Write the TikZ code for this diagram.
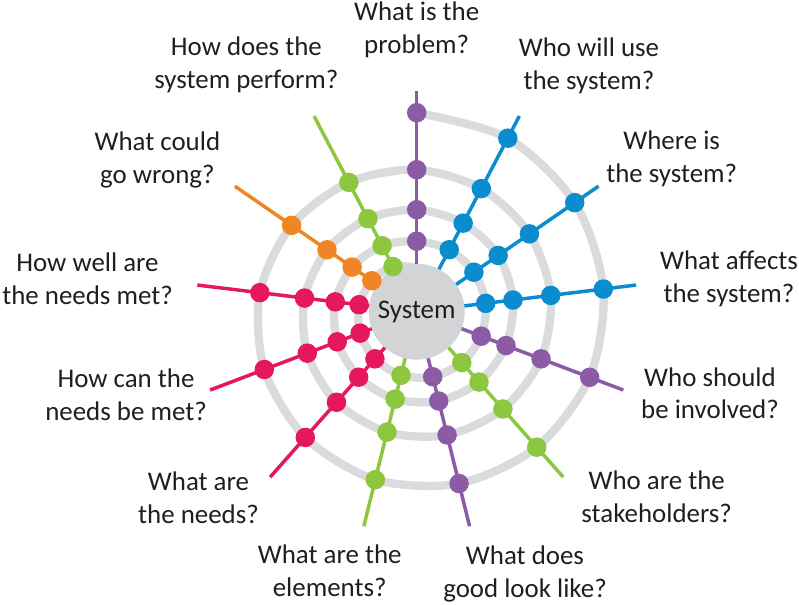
\documentclass[tikz,border=0pt]{standalone}
\usepackage{fontspec}
\setmainfont{Carlito}
\usepackage{tikz}
\usetikzlibrary{calc}
\definecolor{qpurple}{HTML}{8C5BA6}
\definecolor{qblue}{HTML}{0B8CCF}
\definecolor{qgreen}{HTML}{8DC63F}
\definecolor{qpink}{HTML}{E5175E}
\definecolor{qorange}{HTML}{F08526}
\definecolor{ringgray}{HTML}{DADBDD}
\definecolor{hubgray}{HTML}{D3D4D6}

\begin{document}
\begin{tikzpicture}[x=1bp, y=1bp,
  ring/.style={draw=ringgray, line width=8.3bp},
  spoke/.style={line width=3.5bp},
  bead/.style={circle, inner sep=0pt, minimum size=19.5bp},
  question/.style={font=\fontsize{27}{33}\selectfont, align=center, text=black!88, inner sep=0pt}]

  \useasboundingbox (-416.7,-293.3) rectangle (382.3,311.7);

  % radius of the spiral on each spoke: 13 spokes, 4 turns, then the hidden end
  \def\spiralr{{199,196,192,188,185,181,177,173,168,163,158,152,146,%
                142,139,137,135,133,130,127,124,121,117,113,109,105,%
                102,100,99,97,95.5,94,92,90,87.5,85,82,78.5,74.5,%
                70.5,70,69.5,69.5,69,68,67,65.5,63,60.5,58,54.5,51,44}}
  \def\gap{27.6923} % 360/13

  % ===== Spiral =====
  \draw[ring] plot[smooth, samples at={0,...,52}, variable=\n] ({90-\n*\gap}:{\spiralr[\n]});

  % ===== Hub =====
  \node[circle, fill=hubgray, minimum size=96bp, inner sep=0pt,
        font=\fontsize{27}{33}\selectfont, text=black!88] (hub) at (0,0) {System};

  % ===== Spokes with their beads =====
  \foreach \k/\col in {0/qpurple, 1/qblue, 2/qblue, 3/qblue, 4/qpurple, 5/qgreen, 6/qpurple,
                       7/qgreen, 8/qpink, 9/qpink, 10/qpink, 11/qorange, 12/qgreen} {
    \pgfmathsetmacro\ang{90-\k*\gap}
    \coordinate (in\k) at (\ang:48);
    \coordinate (out\k) at (\ang:221);
    \draw[spoke, draw=\col] (in\k) -- (out\k);
    \foreach \t in {0,...,3} {
      \pgfmathsetmacro\rr{\spiralr[\k+13*\t]}
      \node[bead, fill=\col] (b\k-\t) at (\ang:\rr) {};
    }
  }

  % ===== Questions =====
  \foreach \k/\x/\y/\txt in {0/0/281.5/What is the\\problem?,
                             1/172.3/245.7/Who will use\\the system?,
                             2/255/153.2/Where is\\the system?,
                             3/312.3/33.2/What affects\\the system?,
                             4/293.3/-81.5/Who should\\be involved?,
                             5/240/-184.8/Who are the\\stakeholders?,
                             6/108.3/-262.3/What does\\good look like?,
                             7/-87/-259.3/What are the\\elements?,
                             8/-218.2/-186.3/What are\\the needs?,
                             9/-290.7/-83.3/How can the\\needs be met?,
                             10/-329.2/32.7/How well are\\the needs met?,
                             11/-259.3/151.7/What could\\go wrong?,
                             12/-170.3/246.7/How does the\\system perform?} {
    \node[question] (q\k) at (\x,\y) {\txt};
  }
\end{tikzpicture}
\end{document}
